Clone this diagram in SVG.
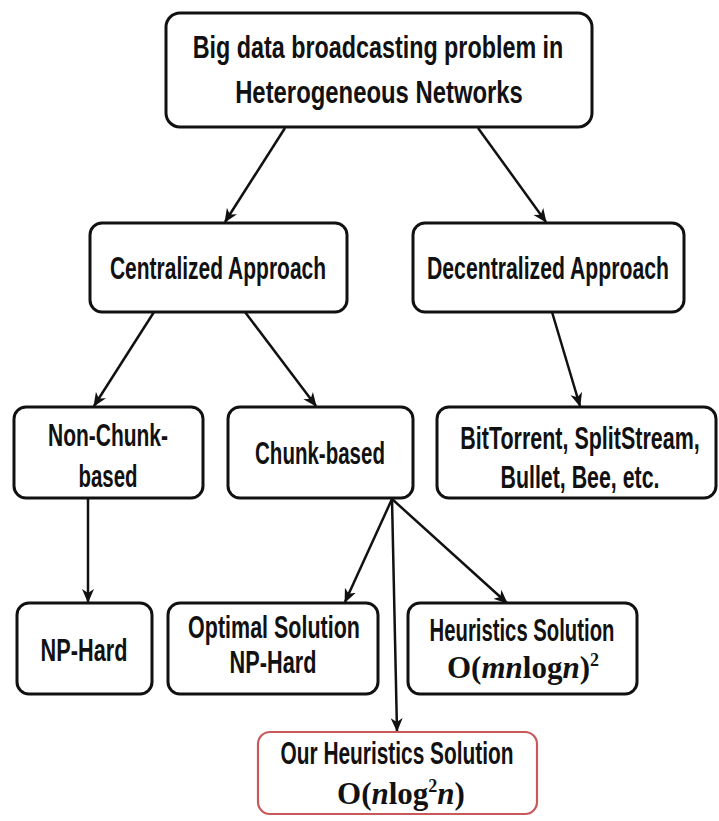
<svg xmlns="http://www.w3.org/2000/svg" width="719" height="821" viewBox="0 0 719 821">
<style>
.box{fill:#fff;stroke:#111;stroke-width:3}
.red{fill:#fff;stroke:#c8595a;stroke-width:2.2}
.t{font-family:"Liberation Sans",Arial,sans-serif;font-weight:bold;font-size:31px;fill:#111;text-anchor:middle}
.m{font-family:"Liberation Serif","Times New Roman",serif;font-weight:bold;font-size:31px;fill:#111;text-anchor:middle}
.c{stroke:#111;stroke-width:2.5;fill:none;marker-end:url(#ah)}
</style>
<defs>
<marker id="ah" markerUnits="userSpaceOnUse" markerWidth="14" markerHeight="14" viewBox="0 0 14 14" refX="13" refY="7" orient="auto">
<path d="M0,1 L14,7 L0,13 L4,7 z" fill="#111"/>
</marker>
</defs>
<rect width="719" height="821" fill="#fff"/>
<g id="connectors">
<line class="c" x1="285" y1="128" x2="225" y2="222"/>
<line class="c" x1="478" y1="128" x2="546" y2="222"/>
<line class="c" x1="154" y1="312" x2="94" y2="406"/>
<line class="c" x1="245" y1="312" x2="316" y2="406"/>
<line class="c" x1="552" y1="312" x2="580" y2="406"/>
<line class="c" x1="88" y1="498" x2="88" y2="602"/>
<line class="c" x1="392" y1="499" x2="345" y2="602"/>
<line class="c" x1="392" y1="499" x2="507" y2="603"/>
<line class="c" x1="392" y1="499" x2="397" y2="731"/>
</g>
<g id="root">
<rect class="box" x="166" y="13" width="426" height="114" rx="14"/>
<text class="t" transform="translate(378,58) scale(0.753,1)">Big data broadcasting problem in</text>
<text class="t" transform="translate(379,103) scale(0.77,1)">Heterogeneous Networks</text>
</g>
<g id="centralized">
<rect class="box" x="90" y="223" width="257" height="89" rx="12"/>
<text class="t" transform="translate(218,279) scale(0.677,1)">Centralized Approach</text>
</g>
<g id="decentralized">
<rect class="box" x="413" y="223" width="271" height="89" rx="12"/>
<text class="t" transform="translate(548,279) scale(0.685,1)">Decentralized Approach</text>
</g>
<g id="nonchunk">
<rect class="box" x="14" y="407" width="189" height="91" rx="12"/>
<text class="t" transform="translate(108,446) scale(0.677,1)">Non-Chunk-</text>
<text class="t" transform="translate(108,487) scale(0.659,1)">based</text>
</g>
<g id="chunk">
<rect class="box" x="228" y="407" width="185" height="91" rx="12"/>
<text class="t" transform="translate(320,464) scale(0.662,1)">Chunk-based</text>
</g>
<g id="bittorrent">
<rect class="box" x="437" y="407" width="279" height="91" rx="12"/>
<text class="t" transform="translate(580,449) scale(0.693,1)">BitTorrent, SplitStream,</text>
<text class="t" transform="translate(580,488) scale(0.689,1)">Bullet, Bee, etc.</text>
</g>
<g id="nphard">
<rect class="box" x="17" y="603" width="135" height="91" rx="12"/>
<text class="t" transform="translate(84,661) scale(0.70,1)">NP-Hard</text>
</g>
<g id="optimal">
<rect class="box" x="168" y="603" width="210" height="91" rx="12"/>
<text class="t" transform="translate(274,638) scale(0.693,1)">Optimal Solution</text>
<text class="t" transform="translate(273,673) scale(0.70,1)">NP-Hard</text>
</g>
<g id="heuristics">
<rect class="box" x="408" y="603" width="229" height="91" rx="12"/>
<text class="t" transform="translate(522,641) scale(0.655,1)">Heuristics Solution</text>
<text class="m" x="523" y="678">O(<tspan font-style="italic">mn</tspan>log<tspan font-style="italic">n</tspan>)<tspan font-size="18" dy="-12">2</tspan></text>
</g>
<g id="ours">
<rect class="red" x="258" y="732" width="279" height="82" rx="12"/>
<text class="t" transform="translate(397,764) scale(0.673,1)">Our Heuristics Solution</text>
<text class="m" x="401" y="804">O(<tspan font-style="italic">n</tspan>log<tspan font-size="18" dy="-12">2</tspan><tspan font-style="italic" dy="12">n</tspan>)</text>
</g>
</svg>
